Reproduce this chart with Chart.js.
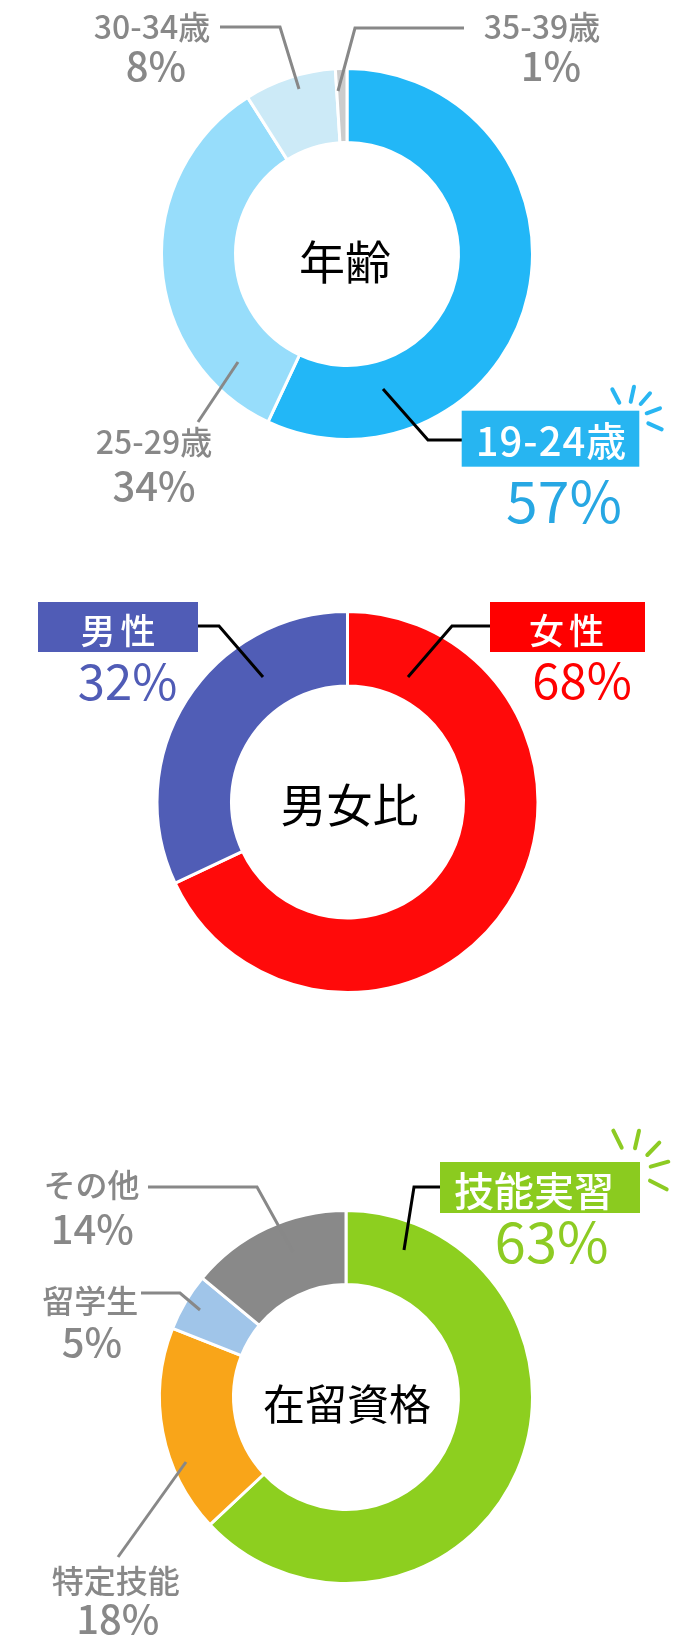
<!DOCTYPE html>
<html><head><meta charset="utf-8">
<script src="https://cdn.jsdelivr.net/npm/chart.js@4.4.1/dist/chart.umd.min.js"></script>
<style>
html,body{margin:0;padding:0;background:#fff;}
body{width:691px;height:1652px;position:relative;overflow:hidden;}
canvas{position:absolute;left:0;display:block;}
</style></head><body>
<canvas id="c1" width="691" height="540" style="top:0px"></canvas>
<canvas id="c2" width="691" height="480" style="top:540px"></canvas>
<canvas id="c3" width="691" height="632" style="top:1020px"></canvas>
<script>
// ---- data ----
const ageLabels = ['19-24歳','25-29歳','30-34歳','35-39歳'];
const ageValues = [57, 34, 8, 1];
const ageColors = ['#22B7F7','#97DDFB','#CCEAF7','#CCCCCC'];
const ageTitle = '年齢';

const sexLabels = ['女性','男性'];
const sexValues = [68, 32];
const sexColors = ['#FF0A0A','#505DB6'];
const sexTitle = '男女比';

const statusLabels = ['技能実習','特定技能','留学生','その他'];
const statusValues = [63, 18, 5, 14];
const statusColors = ['#8DCF1F','#F9A519','#A0C5E9','#898989'];
const statusTitle = '在留資格';

const FONT = "'Noto Sans CJK JP','Noto Sans',sans-serif";
const GRAY = '#888888';
const W = '500';

function callouts(spec){
  return {
    id:'callouts',
    afterDraw(chart){
      const arc = chart.getDatasetMeta(0).data[0];
      const cx = arc.x, cy = arc.y;
      const ctx = chart.ctx;
      ctx.save();
      const labels = chart.data.labels;
      const values = chart.data.datasets[0].data;
      (spec.lines||[]).forEach(l=>{
        ctx.beginPath();
        l.pts.forEach((p,i)=>{ i?ctx.lineTo(cx+p[0],cy+p[1]):ctx.moveTo(cx+p[0],cy+p[1]); });
        ctx.strokeStyle=l.color; ctx.lineWidth=l.w||3; ctx.lineJoin='miter'; ctx.lineCap='butt';
        ctx.stroke();
      });
      (spec.boxes||[]).forEach(b=>{
        ctx.fillStyle=b.color; ctx.fillRect(cx+b.x,cy+b.y,b.w,b.h);
      });
      (spec.sparks||[]).forEach(s=>{
        ctx.strokeStyle=s.color; ctx.lineWidth=s.w; ctx.lineCap='round';
        s.segs.forEach(seg=>{
          ctx.beginPath();
          ctx.moveTo(cx+s.ox+seg[0],cy+s.oy+seg[1]);
          ctx.lineTo(cx+s.ox+seg[2],cy+s.oy+seg[3]);
          ctx.stroke();
        });
      });
      ctx.textAlign='center'; ctx.textBaseline='middle';
      (spec.texts||[]).forEach(t=>{
        let str = t.text;
        if (t.label!==undefined) str = labels[t.label];
        if (t.value!==undefined) str = values[t.value] + '%';
        ctx.font = (t.weight||W)+' '+t.size+'px '+FONT;
        ctx.fillStyle = t.color;
        ctx.letterSpacing = (t.ls||0)+'px';
        const lsOff = (t.ls||0)/2;
        ctx.fillText(str, cx+t.x+lsOff, cy+t.y);
      });
      ctx.restore();
    }
  };
}

function makeChart(id, labels, values, colors, radius, cutout, padding, spec){
  return new Chart(document.getElementById(id), {
    type:'doughnut',
    data:{labels:labels, datasets:[{data:values, backgroundColor:colors, borderColor:'#ffffff', borderWidth:3, hoverOffset:0}]},
    options:{
      responsive:false, animation:false, radius:radius, cutout:cutout,
      layout:{padding:padding},
      plugins:{legend:{display:false}, tooltip:{enabled:false}}
    },
    plugins:[callouts(spec)]
  });
}

// ---- chart 1: age ----
makeChart('c1', ageLabels, ageValues, ageColors, 185.5, '60.1%', {left:3,bottom:32}, {
  lines:[
    {pts:[[-127,-227],[-67,-227],[-48,-165]], color:GRAY},
    {pts:[[117,-226],[8,-226],[-9,-163]], color:GRAY},
    {pts:[[-109,108],[-149,168]], color:GRAY},
    {pts:[[36,135],[81,186],[115,186]], color:'#000000'}
  ],
  boxes:[{x:114.7,y:156.7,w:177.6,h:56,color:'#27B5F1'}],
  sparks:[{ox:292.3,oy:156.7,color:'#29B6F2',w:4,segs:[
    [-27,-21.4,-20,-8],[-5.3,-24,-8.6,-9],[10.7,-17.4,1.4,-6.7],[20.7,-2.4,7.4,2.6],[22.4,18.6,9,12.6]]}],
  texts:[
    {label:2, x:-195, y:-227, size:32, color:GRAY},
    {value:2, x:-191, y:-188, size:40, color:GRAY},
    {label:3, x:195, y:-227, size:32, color:GRAY},
    {value:3, x:204, y:-188, size:40, color:GRAY},
    {label:1, x:-193, y:188, size:32, color:GRAY},
    {value:1, x:-193, y:232, size:40, color:GRAY},
    {label:0, x:204, y:187, size:40, ls:1, color:'#ffffff'},
    {value:0, x:217, y:247, size:57, weight:'400', color:'#27A7E3'},
    {text:ageTitle, x:-2, y:8, size:46, weight:'400', color:'#000000'}
  ]
});

// ---- chart 2: sex ----
makeChart('c2', sexLabels, sexValues, sexColors, 190.5, '60.9%', {left:4,top:44}, {
  lines:[
    {pts:[[-149.5,-176],[-128.5,-176],[-84.5,-125]], color:'#000000'},
    {pts:[[142.5,-176],[104.5,-176],[60.5,-125]], color:'#000000'}
  ],
  boxes:[
    {x:-309.5,y:-200,w:160,h:50,color:'#505CB6'},
    {x:142.5,y:-200,w:155,h:50,color:'#FF0000'}
  ],
  texts:[
    {label:1, x:-229.5, y:-171, size:35, ls:5, color:'#ffffff'},
    {value:1, x:-220, y:-120.5, size:49, weight:'400', color:'#505CB6'},
    {label:0, x:219, y:-171, size:35, ls:5, color:'#ffffff'},
    {value:0, x:234.5, y:-121.5, size:49, weight:'400', color:'#FF0000'},
    {text:sexTitle, x:2, y:3, size:46, weight:'400', color:'#000000'}
  ]
});

// ---- chart 3: residence status ----
makeChart('c3', statusLabels, statusValues, statusColors, 186.5, '60.3%', {left:1,top:122}, {
  lines:[
    {pts:[[94,-210],[68,-210],[58,-147]], color:'#000000'},
    {pts:[[-198,-210],[-89,-210],[-53,-145]], color:GRAY},
    {pts:[[-205,-104],[-166,-104],[-146,-87]], color:GRAY},
    {pts:[[-160,65],[-228,160]], color:GRAY}
  ],
  boxes:[{x:94,y:-235,w:200,h:51,color:'#8BCB1F'}],
  sparks:[{ox:294,oy:-235,color:'#8DCB23',w:4,segs:[
    [-26.7,-31.3,-18.3,-14.3],[-1,-31.3,-5,-13.7],[19.3,-19.3,7.3,-7],[28.3,-0.3,10.7,4.7],[26.7,27.3,10,18.7]]}],
  texts:[
    {label:0, x:188, y:-206, size:40, color:'#ffffff'},
    {value:0, x:205.7, y:-155, size:56, weight:'400', color:'#8DCB23'},
    {label:3, x:-254.5, y:-212, size:32, color:GRAY},
    {value:3, x:-253.7, y:-168.5, size:40, color:GRAY},
    {label:2, x:-255.7, y:-96, size:32, color:GRAY},
    {value:2, x:-254, y:-55, size:40, color:GRAY},
    {label:1, x:-230.2, y:183.5, size:32, color:GRAY},
    {value:1, x:-228.2, y:222, size:40, color:GRAY},
    {text:statusTitle, x:1, y:7, size:42, weight:'400', color:'#000000'}
  ]
});
</script>
</body></html>
